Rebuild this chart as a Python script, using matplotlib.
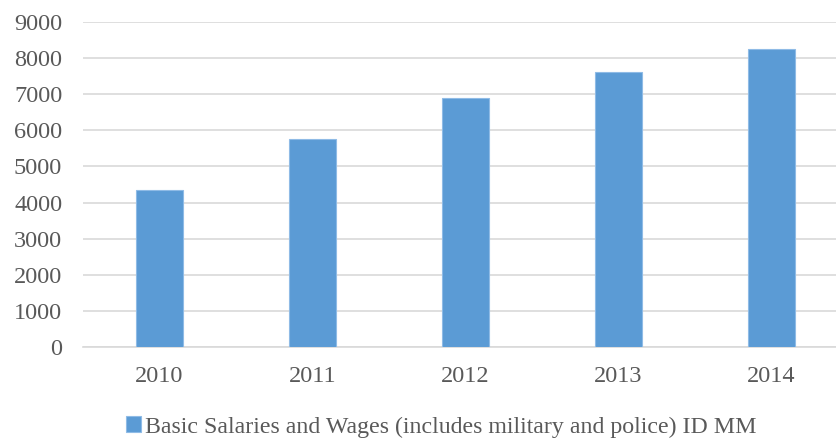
import matplotlib
matplotlib.use('Agg')
import matplotlib.pyplot as plt

years = ['2010', '2011', '2012', '2013', '2014']
salaries = [4345, 5760, 6885, 7605, 8260]
series_name = 'Basic Salaries and Wages (includes military and police) ID MM'

plt.rcParams['font.family'] = ['Liberation Serif', 'DejaVu Serif']

fig = plt.figure(figsize=(8.37, 4.38), dpi=100)
ax = fig.add_axes([0.0992, 0.2078, 0.9008, 0.742])

x = range(len(years))
ax.bar(x, salaries, width=0.31, color='#5b9bd5', edgecolor='#8fbbe6',
       linewidth=0.8, label=series_name, zorder=3)

ax.set_ylim(0, 9000)
ax.set_yticks(range(0, 9001, 1000))
ax.set_xlim(-0.5, 4.43)
ax.set_xticks(list(x))
ax.set_xticklabels(years)

ax.grid(axis='y', color='#d9d9d9', linewidth=1.2, zorder=0)
for side in ['top', 'right', 'left']:
    ax.spines[side].set_visible(False)
ax.spines['bottom'].set_color('#d9d9d9')
ax.spines['bottom'].set_linewidth(1.2)
ax.tick_params(axis='both', length=0, labelsize=17.5, colors='#595959')
ax.tick_params(axis='y', pad=15)
ax.tick_params(axis='x', pad=14)

fig.legend(loc='center', bbox_to_anchor=(0.527, 0.025), frameon=False,
           fontsize=17.2, handlelength=0.62, handleheight=0.62, handletextpad=0.15,
           labelcolor='#595959')

fig.savefig('out.png', dpi=100)
